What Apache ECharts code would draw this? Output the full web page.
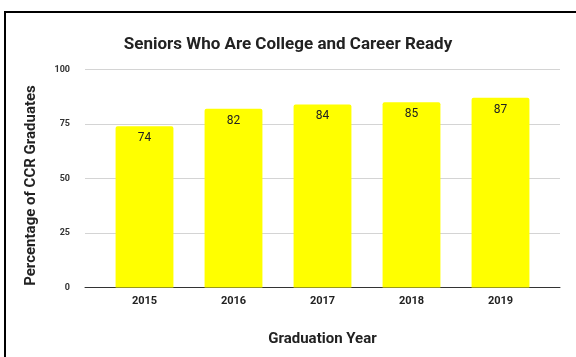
<!DOCTYPE html>
<html>
<head>
<meta charset="utf-8">
<style>
  html, body { margin: 0; padding: 0; background: #fff; }
  #chart { width: 576px; height: 357px; }
</style>
<script src="https://cdn.jsdelivr.net/npm/echarts@6/dist/echarts.min.js"></script>
</head>
<body>
<div id="chart"></div>
<script>
// Share of seniors graduating college and career ready, by year
const years = ['2015', '2016', '2017', '2018', '2019'];
const ccrPercent = [74, 82, 84, 85, 87];
const yTicks = [0, 25, 50, 75, 100];

const chart = echarts.init(document.getElementById('chart'), null, { renderer: 'canvas' });
const font = 'Roboto, "Liberation Sans", Arial, sans-serif';

chart.setOption({
  animation: false,
  backgroundColor: '#ffffff',
  title: {
    text: 'Seniors Who Are College and Career Ready',
    left: 'center',
    top: 31,
    textStyle: { fontFamily: font, fontSize: 17, fontWeight: 'bold', color: '#222' }
  },
  graphic: [{
    type: 'rect',
    silent: true,
    z: 100,
    shape: { x: 5, y: 12, width: 700, height: 500 },
    style: { fill: 'none', stroke: '#000', lineWidth: 2 }
  }],
  grid: [
    // frame carrying the value axis and the full-width gridlines
    { left: 85, right: 16, top: 69.5, bottom: 69.5 },
    // inner frame holding the bars
    { left: 100, right: 31, top: 69.5, bottom: 69.5 }
  ],
  xAxis: [
    {
      gridIndex: 0, type: 'value', min: 0, max: 1,
      axisLine: { show: true, lineStyle: { color: '#333', width: 1 } },
      axisTick: { show: false }, axisLabel: { show: false }, splitLine: { show: false }
    },
    {
      gridIndex: 1, type: 'category', data: years,
      name: 'Graduation Year', nameLocation: 'middle', nameGap: 44,
      nameTextStyle: { fontFamily: font, fontSize: 15, fontWeight: 'bold', color: '#222' },
      axisLine: { show: false }, axisTick: { show: false },
      axisLabel: { fontFamily: font, fontSize: 11, fontWeight: 'bold', color: '#222', margin: 8 }
    }
  ],
  yAxis: [
    {
      gridIndex: 0, type: 'value', min: yTicks[0], max: yTicks[yTicks.length - 1], interval: 25,
      name: 'Percentage of CCR Graduates', nameLocation: 'middle', nameGap: 46,
      nameTextStyle: { fontFamily: font, fontSize: 15, fontWeight: 'bold', color: '#222', padding: [0, 14, 0, 0] },
      axisLine: { show: false }, axisTick: { show: false },
      axisLabel: { fontFamily: font, fontSize: 9, fontWeight: 'bold', color: '#333', margin: 15 },
      splitLine: { show: true, lineStyle: { color: '#d4d4d4', width: 1 } }
    },
    {
      gridIndex: 1, type: 'value', min: yTicks[0], max: yTicks[yTicks.length - 1], interval: 25,
      show: false, splitLine: { show: false }
    }
  ],
  series: [{
    type: 'bar',
    xAxisIndex: 1,
    yAxisIndex: 1,
    data: ccrPercent,
    barWidth: '65%',
    itemStyle: { color: '#ffff00', borderRadius: [2, 2, 0, 0] },
    label: {
      show: true, position: 'insideTop', distance: 6,
      fontFamily: font, fontSize: 12, color: '#222'
    }
  }]
});
</script>
</body>
</html>
